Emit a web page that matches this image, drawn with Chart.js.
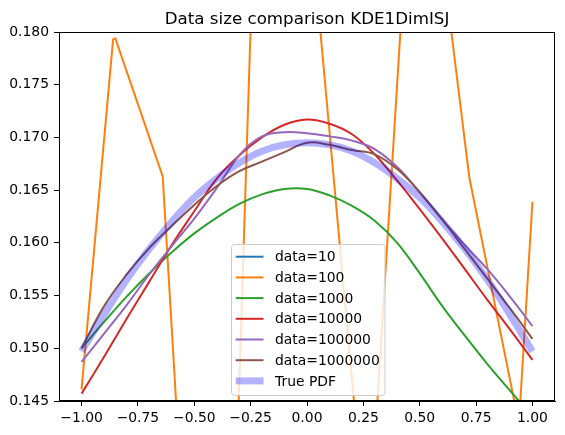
<!DOCTYPE html>
<html>
<head>
<meta charset="utf-8">
<script src="https://cdn.jsdelivr.net/npm/chart.js@4"></script>
<style>
  body { margin: 0; background: #fff; }
  #wrap { width: 565px; height: 435px; }
</style>
</head>
<body>
<div id="wrap"><canvas id="kde" width="565" height="435"></canvas></div>
<script>
// values
var titleText = "Data size comparison KDE1DimISJ";
var seriesLabels = ["data=10", "data=100", "data=1000", "data=10000", "data=100000", "data=1000000", "True PDF"];
var seriesColors = ["#1f77b4", "#ff7f0e", "#2ca02c", "#d62728", "#9467bd", "#8c564b", "rgba(0,0,255,0.3)"];

var xTicks = [-1.0, -0.75, -0.5, -0.25, 0.0, 0.25, 0.5, 0.75, 1.0];
var yTicks = [0.145, 0.150, 0.155, 0.160, 0.165, 0.170, 0.175, 0.180];

var xGrid = [-1.0, -0.9, -0.8, -0.7, -0.6, -0.5, -0.4, -0.3, -0.2, -0.1, 0.0,
             0.1, 0.2, 0.3, 0.4, 0.5, 0.6, 0.7, 0.8, 0.9, 1.0];

// data=10 never shows inside the visible window
var data10X = [-1.0, -0.5, 0.0, 0.5, 1.0];
var data10 = [0.112, 0.121, 0.118, 0.109, 0.104];

var data100X = [-1.0, -0.86, -0.85, -0.64, -0.40, -0.17, 0.27, 0.49, 0.72, 0.94, 1.0];
var data100 = [0.1461, 0.1793, 0.1794, 0.1663, 0.080, 0.234, 0.1305, 0.206, 0.1662, 0.1428, 0.1639];

var data1000 = [0.1500, 0.1525, 0.1549, 0.1571, 0.1591, 0.1609, 0.1624, 0.1637, 0.1646, 0.1651, 0.1651,
                0.1645, 0.1635, 0.1621, 0.1600, 0.1571, 0.1540, 0.1512, 0.1485, 0.1460, 0.1435];
var data10000 = [0.1457, 0.1492, 0.1528, 0.1563, 0.1598, 0.1630, 0.1661, 0.1683, 0.1700, 0.1712, 0.1717,
                 0.1713, 0.1703, 0.1684, 0.1659, 0.1632, 0.1604, 0.1575, 0.1546, 0.1518, 0.1489];
var data100000 = [0.1487, 0.1514, 0.1541, 0.1570, 0.1597, 0.1623, 0.1652, 0.1683, 0.1701, 0.1705, 0.1704,
                  0.1701, 0.1697, 0.1689, 0.1672, 0.1648, 0.1622, 0.1598, 0.1575, 0.1549, 0.1521];
var data1000000 = [0.1500, 0.1540, 0.1570, 0.1595, 0.1616, 0.1636, 0.1654, 0.1668, 0.1677, 0.1686, 0.1695,
                   0.1693, 0.1688, 0.1684, 0.1670, 0.1648, 0.1622, 0.1594, 0.1566, 0.1538, 0.1509];
var truePdf = [0.1497, 0.1532, 0.1565, 0.1594, 0.1620, 0.1643, 0.1661, 0.1676, 0.1687, 0.1693, 0.1695,
               0.1693, 0.1687, 0.1676, 0.1661, 0.1643, 0.1620, 0.1594, 0.1565, 0.1532, 0.1497];

function pts(xs, ys) {
  var out = [];
  for (var i = 0; i < xs.length; i++) out.push({x: xs[i], y: ys[i]});
  return out;
}

var seriesData = [
  pts(data10X, data10),
  pts(data100X, data100),
  pts(xGrid, data1000),
  pts(xGrid, data10000),
  pts(xGrid, data100000),
  pts(xGrid, data1000000),
  pts(xGrid, truePdf)
];

var datasets = [];
for (var i = 0; i < seriesLabels.length; i++) {
  var isPdf = (i == seriesLabels.length - 1);
  datasets.push({
    label: seriesLabels[i],
    data: seriesData[i],
    borderColor: seriesColors[i],
    backgroundColor: seriesColors[i],
    borderWidth: isPdf ? 7 : 2,
    pointRadius: 0,
    fill: false,
    tension: (i == 1) ? 0 : 0.4,
    clip: 0,
    order: seriesLabels.length - i   // later series drawn on top
  });
}

var FONT = "'DejaVu Sans', sans-serif";

var frameAndText = {
  id: "frameAndText",
  afterDraw: function(chart) {
    var ctx = chart.ctx;
    var a = chart.chartArea;
    ctx.save();
    // axes frame
    ctx.strokeStyle = "#000";
    ctx.lineWidth = 1;
    ctx.strokeRect(Math.round(a.left) + 0.5, Math.round(a.top) + 0.5,
                   Math.round(a.right - a.left) - 1, Math.round(a.bottom - a.top) - 1);
    // title
    ctx.fillStyle = "#000";
    ctx.font = "16.7px " + FONT;
    ctx.textAlign = "center";
    ctx.textBaseline = "alphabetic";
    ctx.fillText(titleText, (a.left + a.right) / 2, 24);
    // legend box
    var bx = 231.5, by = 244.5, bw = 153.5, bh = 151, r = 3;
    ctx.beginPath();
    ctx.moveTo(bx + r, by);
    ctx.lineTo(bx + bw - r, by);
    ctx.quadraticCurveTo(bx + bw, by, bx + bw, by + r);
    ctx.lineTo(bx + bw, by + bh - r);
    ctx.quadraticCurveTo(bx + bw, by + bh, bx + bw - r, by + bh);
    ctx.lineTo(bx + r, by + bh);
    ctx.quadraticCurveTo(bx, by + bh, bx, by + bh - r);
    ctx.lineTo(bx, by + r);
    ctx.quadraticCurveTo(bx, by, bx + r, by);
    ctx.closePath();
    ctx.fillStyle = "rgba(255,255,255,0.8)";
    ctx.fill();
    ctx.strokeStyle = "#cccccc";
    ctx.lineWidth = 1;
    ctx.stroke();
    ctx.font = "13.9px " + FONT;
    ctx.textAlign = "left";
    ctx.textBaseline = "middle";
    var ds = chart.data.datasets;
    for (var k = 0; k < ds.length; k++) {
      var yy = 256.7 + k * 20.7;
      ctx.beginPath();
      ctx.moveTo(235.7, yy);
      ctx.lineTo(263.5, yy);
      ctx.strokeStyle = ds[k].borderColor;
      ctx.lineWidth = ds[k].borderWidth;
      ctx.stroke();
      ctx.fillStyle = "#000";
      ctx.fillText(ds[k].label, 275, yy + 1);
    }
    ctx.restore();
  }
};

Chart.defaults.color = "#000";
Chart.defaults.font.family = FONT;

new Chart(document.getElementById("kde"), {
  type: "line",
  data: { datasets: datasets },
  options: {
    responsive: false,
    animation: false,
    events: [],
    layout: { padding: { top: 32, right: 10, left: 0, bottom: 0 } },
    plugins: { legend: { display: false }, title: { display: false }, tooltip: { enabled: false } },
    scales: {
      x: {
        type: "linear",
        min: -1.1,
        max: 1.1,
        afterBuildTicks: function(scale) {
          scale.ticks = xTicks.map(function(v) { return {value: v}; });
        },
        afterFit: function(scale) { scale.height = 34; },
        grid: { drawOnChartArea: false, drawTicks: true, tickLength: 5, color: "#000", lineWidth: 1 },
        border: { display: true, color: "#000", width: 1 },
        ticks: {
          font: { size: 13.9 },
          padding: 4,
          maxRotation: 0,
          autoSkip: false,
          callback: function(v) { return v.toFixed(2).replace("-", "\u2212"); }
        }
      },
      y: {
        type: "linear",
        min: 0.145,
        max: 0.180,
        afterBuildTicks: function(scale) {
          scale.ticks = yTicks.map(function(v) { return {value: v}; });
        },
        afterFit: function(scale) { scale.width = 59; },
        grid: { drawOnChartArea: false, drawTicks: true, tickLength: 5, color: "#000", lineWidth: 1 },
        border: { display: true, color: "#000", width: 1 },
        ticks: {
          font: { size: 13.9 },
          padding: 5,
          autoSkip: false,
          callback: function(v) { return v.toFixed(3); }
        }
      }
    }
  },
  plugins: [frameAndText]
});
</script>
</body>
</html>
